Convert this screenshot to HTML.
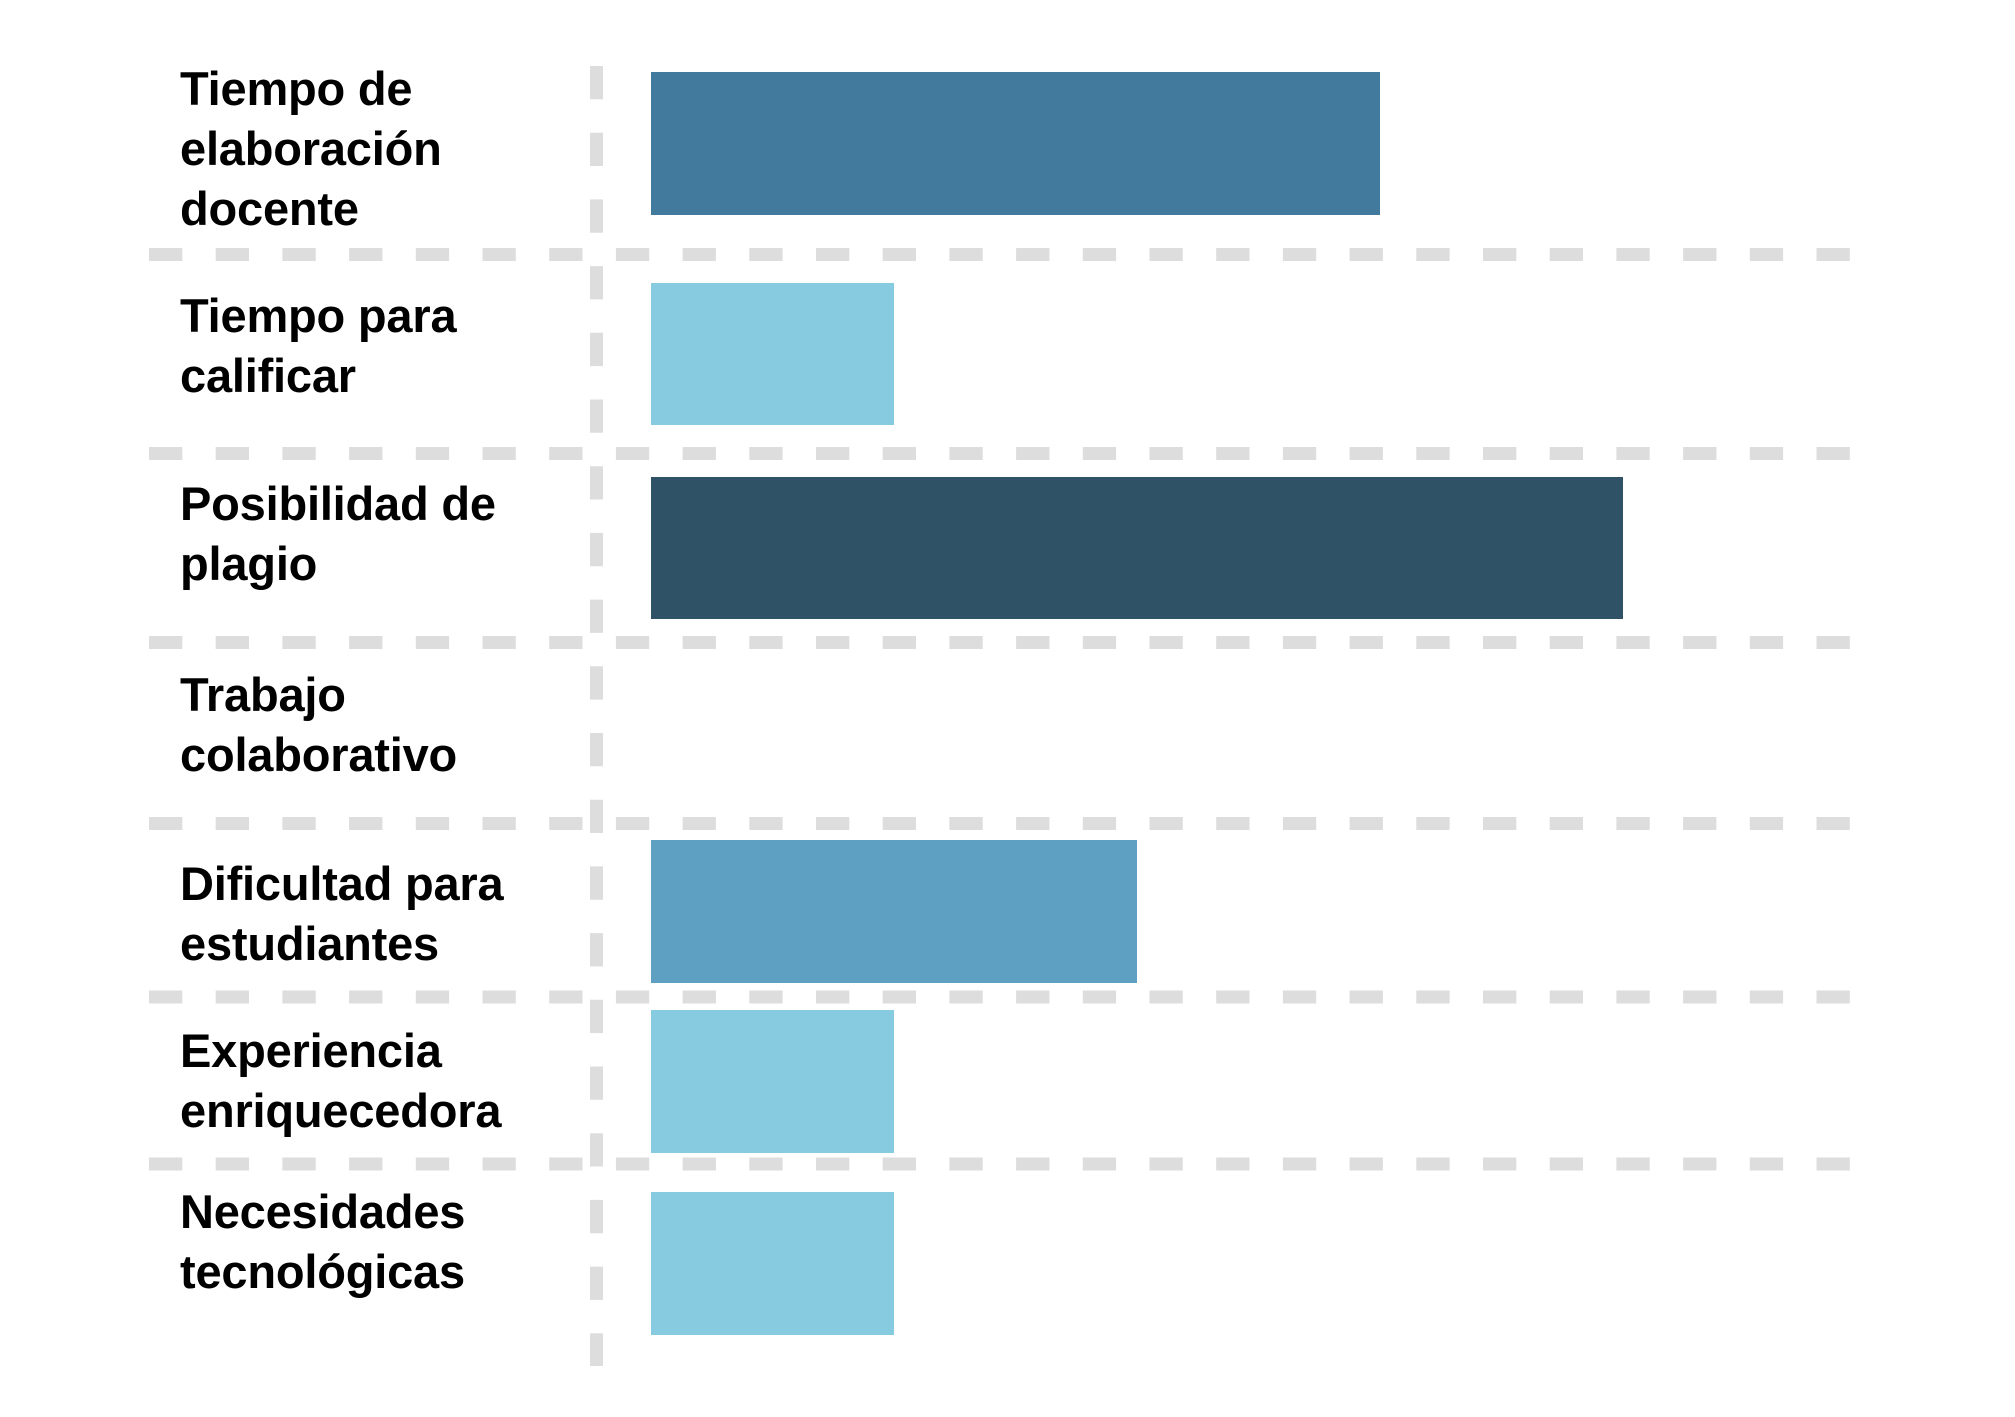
<!DOCTYPE html>
<html><head><meta charset="utf-8"><style>
html,body{margin:0;padding:0;background:#fff;}
svg{display:block;}
text{font-family:"Liberation Sans",Arial,sans-serif;font-weight:bold;font-size:47px;fill:#000;letter-spacing:-0.2px;}
</style></head><body>
<svg width="2015" height="1417" viewBox="0 0 2015 1417" xmlns="http://www.w3.org/2000/svg">
<rect width="2015" height="1417" fill="#fff"/>
<g stroke="#dddddd" stroke-width="13" stroke-dasharray="33.3 33.4" fill="none">
<line x1="149" y1="254.5" x2="1850" y2="254.5"/>
<line x1="149" y1="453.5" x2="1850" y2="453.5"/>
<line x1="149" y1="642.5" x2="1850" y2="642.5"/>
<line x1="149" y1="823.5" x2="1850" y2="823.5"/>
<line x1="149" y1="997" x2="1850" y2="997"/>
<line x1="149" y1="1164" x2="1850" y2="1164"/>
<line x1="596.5" y1="66" x2="596.5" y2="1366"/>
</g>
<rect x="651" y="72" width="729" height="143" fill="#427a9d"/>
<rect x="651" y="283" width="243" height="142" fill="#87cbe0"/>
<rect x="651" y="477" width="972" height="142" fill="#2f5266"/>
<rect x="651" y="840" width="486" height="143" fill="#5ea0c2"/>
<rect x="651" y="1010" width="243" height="143" fill="#87cbe0"/>
<rect x="651" y="1192" width="243" height="143" fill="#87cbe0"/>
<text x="180" y="105">Tiempo de</text>
<text x="180" y="165">elaboración</text>
<text x="180" y="225">docente</text>
<text x="180" y="332">Tiempo para</text>
<text x="180" y="392">calificar</text>
<text x="180" y="520">Posibilidad de</text>
<text x="180" y="580">plagio</text>
<text x="180" y="711">Trabajo</text>
<text x="180" y="771">colaborativo</text>
<text x="180" y="900">Dificultad para</text>
<text x="180" y="960">estudiantes</text>
<text x="180" y="1067">Experiencia</text>
<text x="180" y="1127">enriquecedora</text>
<text x="180" y="1228">Necesidades</text>
<text x="180" y="1288">tecnológicas</text>
</svg>
</body></html>
